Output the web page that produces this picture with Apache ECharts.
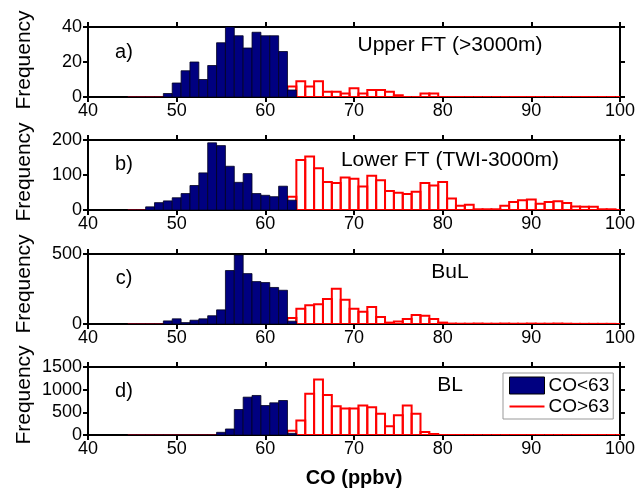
<!DOCTYPE html>
<html>
<head>
<meta charset="utf-8">
<script src="https://cdn.jsdelivr.net/npm/echarts@6/dist/echarts.min.js"></script>
<style>
  html, body { margin: 0; padding: 0; background: #fff; }
  #main { width: 638px; height: 489px; }
</style>
</head>
<body>
<div id="main"></div>
<script>
// CO bins (ppbv), 1 ppbv wide, centred on integers
const blueBins = [45, 46, 47, 48, 49, 50, 51, 52, 53, 54, 55, 56, 57, 58, 59, 60, 61, 62, 63];
const redBins = [45, 46, 47, 48, 49, 50, 51, 52, 53, 54, 55, 56, 57, 58, 59, 60, 61, 62, 63,
  64, 65, 66, 67, 68, 69, 70, 71, 72, 73, 74, 75, 76, 77, 78, 79, 80, 81, 82, 83, 84, 85,
  86, 87, 88, 89, 90, 91, 92, 93, 94, 95, 96, 97, 98, 99, 100];

// a) Upper FT
const blueA = [0, 0, 0, 0, 2, 8, 15, 20, 10, 18, 31, 40, 35, 28, 37, 35, 35, 26, 4];
const redA = [0, 0, 0, 0, 0, 0, 0, 0, 0, 0, 0, 0, 0, 0, 0, 0, 0, 0,
  6, 9, 6, 9, 3, 3, 2, 5, 2, 4, 4, 3, 1, 0, 0, 2, 2,
  0, 0, 0, 0, 0, 0, 0, 0, 0, 0, 0, 0, 0, 0, 0, 0, 0, 0, 0, 0, 0];
// b) Lower FT
const blueB = [0, 0, 9, 21, 26, 35, 47, 70, 106, 192, 184, 125, 79, 104, 47, 42, 38, 68, 28];
const redB = [0, 0, 0, 0, 0, 0, 0, 0, 0, 0, 0, 0, 0, 0, 0, 0, 0, 0,
  38, 143, 153, 119, 80, 77, 93, 89, 67, 98, 85, 54, 49, 46, 52, 77, 70, 80, 33, 12,
  15, 2, 2, 2, 12, 23, 28, 30, 18, 23, 25, 20, 10, 9, 9, 2, 2, 0];
// c) BuL
const blueC = [0, 0, 0, 0, 22, 37, 10, 27, 37, 59, 101, 382, 493, 360, 303, 296, 261, 241, 20];
const redC = [0, 0, 0, 0, 0, 0, 0, 0, 0, 0, 0, 0, 0, 0, 0, 0, 0, 0,
  43, 109, 134, 141, 178, 252, 173, 109, 87, 121, 50, 10, 17, 35, 64, 59, 35, 10, 3, 2,
  2, 3, 2, 2, 3, 2, 2, 3, 2, 2, 3, 2, 1, 1, 1, 1, 1, 0];
// d) BL
const blueD = [0, 0, 0, 0, 0, 0, 0, 0, 0, 0, 59, 133, 562, 835, 872, 650, 710, 761, 37];
const redD = [0, 0, 0, 0, 0, 0, 0, 0, 0, 0, 0, 0, 0, 0, 0, 0, 0, 0,
  96, 318, 909, 1227, 880, 636, 584, 584, 650, 613, 466, 192, 436, 650, 466, 67, 22,
  0, 0, 0, 0, 0, 0, 0, 0, 0, 0, 0, 0, 0, 0, 0, 0, 0, 0, 0, 0, 0];

const yMax = [40, 200, 500, 1500];
const yStep = [20, 100, 500, 500];
const tags = ['a)', 'b)', 'c)', 'd)'];
const names = ['Upper FT (>3000m)', 'Lower FT (TWI-3000m)', 'BuL', 'BL'];

const FONT = 'Liberation Sans, Arial, sans-serif';
const chart = echarts.init(document.getElementById('main'));

const tops = [27, 140, 254, 367];
const gridLeft = 88, gridW = 533, gridH = 70;

const blues = [blueA, blueB, blueC, blueD];
const reds = [redA, redB, redC, redD];

// histogram bar: one bin wide, from 0 up to the count
function binRect(fill, stroke, lw) {
  return function (params, api) {
    const x = api.value(0), v = api.value(1);
    const p0 = api.coord([x - 0.5, v]);
    const p1 = api.coord([x + 0.5, 0]);
    return {
      type: 'rect',
      shape: { x: p0[0], y: p0[1], width: p1[0] - p0[0], height: p1[1] - p0[1] },
      style: { fill: fill, stroke: stroke, lineWidth: lw }
    };
  };
}

const grid = [], xAxis = [], yAxis = [], series = [], graphic = [];
const lineStyle = { color: '#000', width: 2 };

for (let i = 0; i < 4; i++) {
  grid.push({ left: gridLeft, width: gridW, top: tops[i], height: gridH });
  const xBase = {
    gridIndex: i, type: 'value', min: 40, max: 100, interval: 10,
    axisLine: { show: true, onZero: false, lineStyle },
    axisTick: { show: true, length: 5, lineStyle },
    splitLine: { show: false }
  };
  xAxis.push(Object.assign({}, xBase, {
    position: 'bottom',
    axisLabel: { fontSize: 18, color: '#000', margin: 5, fontFamily: FONT },
    name: i === 3 ? 'CO (ppbv)' : '',
    nameLocation: 'middle', nameGap: 33,
    nameTextStyle: { fontSize: 20, fontWeight: 'bold', color: '#000', fontFamily: FONT }
  }));
  xAxis.push(Object.assign({}, xBase, { position: 'top', axisLabel: { show: false } }));

  const yBase = {
    gridIndex: i, type: 'value', min: 0, max: yMax[i], interval: yStep[i],
    axisLine: { show: true, lineStyle },
    axisTick: { show: true, length: 5, lineStyle },
    splitLine: { show: false }
  };
  yAxis.push(Object.assign({}, yBase, {
    position: 'left',
    axisLabel: { fontSize: 18, color: '#000', margin: 6, fontFamily: FONT, formatter: v => String(v) }
  }));
  yAxis.push(Object.assign({}, yBase, { position: 'right', axisLabel: { show: false } }));

  series.push({
    name: 'CO>63', type: 'custom', xAxisIndex: 2 * i, yAxisIndex: 2 * i,
    data: redBins.map((b, k) => [b, reds[i][k]]),
    clip: true, z: 2, silent: true,
    itemStyle: { color: '#ff0000' },
    renderItem: binRect('rgba(255,255,255,0)', '#ff0000', 2)
  });
  series.push({
    name: 'CO<63', type: 'custom', xAxisIndex: 2 * i, yAxisIndex: 2 * i,
    data: blueBins.map((b, k) => [b, blues[i][k]]),
    clip: true, z: 3, silent: true,
    itemStyle: { color: '#000080' },
    renderItem: binRect('#000080', '#000020', 0.8)
  });

  const tagY = [52, 164, 278, 391][i];
  const nameY = [45, 160, 272, 385][i];
  graphic.push({
    type: 'text', x: 124, y: tagY,
    style: { text: tags[i], font: '20px ' + FONT, fill: '#000', align: 'center', verticalAlign: 'middle' }
  });
  graphic.push({
    type: 'text', x: 450, y: nameY,
    style: { text: names[i], font: '21px ' + FONT, fill: '#000', align: 'center', verticalAlign: 'middle' }
  });
  graphic.push({
    type: 'text', x: 24, y: [60, 172, 284, 395][i], rotation: Math.PI / 2,
    style: { text: 'Frequency', font: '21px ' + FONT, fill: '#000', align: 'center', verticalAlign: 'middle' }
  });
}

const option = {
  backgroundColor: '#ffffff',
  animation: false,
  grid, xAxis, yAxis, series, graphic,
  legend: {
    left: 503, top: 373, orient: 'vertical',
    padding: [3, 4, 3, 6], itemGap: 2, itemWidth: 35, itemHeight: 17,
    borderColor: '#999', borderWidth: 1, backgroundColor: '#fff',
    selectedMode: false,
    textStyle: { fontSize: 19, color: '#000', fontFamily: FONT, padding: [0, 0, 0, -1] },
    data: [
      { name: 'CO<63', icon: 'rect', itemStyle: { color: '#000080', borderColor: '#000', borderWidth: 1 } },
      { name: 'CO>63', icon: 'path://M0,0L0,0M0,17L0,17M0,7.5L35,7.5L35,9.5L0,9.5Z',
        itemStyle: { color: '#ff0000', borderWidth: 0 } }
    ]
  }
};

chart.setOption(option);
</script>
</body>
</html>
